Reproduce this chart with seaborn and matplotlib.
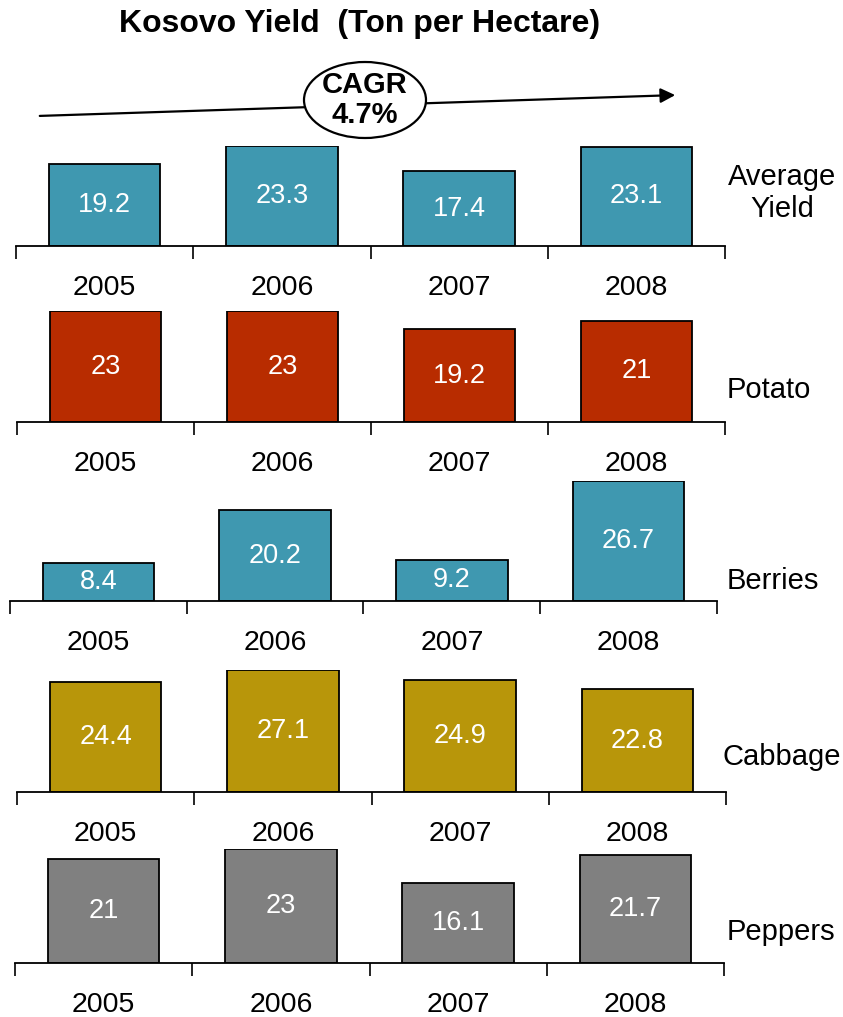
import matplotlib
matplotlib.use("Agg")
import matplotlib.pyplot as plt
from matplotlib.patches import Ellipse, FancyArrowPatch
import seaborn as sns
import pandas as pd

# ---- data ----
years = ["2005", "2006", "2007", "2008"]
panel_names = ["Average\nYield", "Potato", "Berries", "Cabbage", "Peppers"]
avg_yield = [19.2, 23.3, 17.4, 23.1]
potato = [23, 23, 19.2, 21]
berries = [8.4, 20.2, 9.2, 26.7]
cabbage = [24.4, 27.1, 24.9, 22.8]
peppers = [21, 23, 16.1, 21.7]
value_labels = [
    ["19.2", "23.3", "17.4", "23.1"],
    ["23", "23", "19.2", "21"],
    ["8.4", "20.2", "9.2", "26.7"],
    ["24.4", "27.1", "24.9", "22.8"],
    ["21", "23", "16.1", "21.7"],
]
title = "Kosovo Yield  (Ton per Hectare)"
cagr_text = "CAGR\n4.7%"

series = [avg_yield, potato, berries, cabbage, peppers]
panel_colors = ["#3F98B0", "#B82C00", "#3F98B0", "#B8960A", "#808080"]

sns.set_style("white")
plt.rcParams["font.family"] = ["Liberation Sans", "DejaVu Sans"]
plt.rcParams["text.color"] = "black"

W, H = 843, 1017
fig = plt.figure(figsize=(W / 100, H / 100), dpi=100)

def fx(x):
    return x / W

def fy(y):
    return 1 - y / H

# layout in pixels: (x_left, x_right, baseline_y, top_y, label_x, label_y, label_ha)
layout = [
    (16, 725, 246, 146, 782, 193, "center"),
    (17, 725, 422, 311, 727, 390, "left"),
    (10, 717, 601, 481, 727, 581, "left"),
    (17, 726, 792, 670, 722, 757, "left"),
    (15, 724, 963, 849, 727, 932, "left"),
]

FS_VAL = 19.5
FS_YEAR = 20.5
FS_NAME = 21

for i, (vals, name, col) in enumerate(zip(series, panel_names, panel_colors)):
    x0, x1, yb, yt, lx, ly, lha = layout[i]
    ax = fig.add_axes([fx(x0), fy(yb), (x1 - x0) / W, (yb - yt) / H])
    df = pd.DataFrame({"year": years, "value": vals})
    sns.barplot(data=df, x="year", y="value", order=years, ax=ax, color=col,
                saturation=1, width=0.63, edgecolor="black", linewidth=1.3)
    ax.set_xlim(-0.5, 3.5)
    ax.set_ylim(0, max(vals))
    ax.set_xlabel("")
    ax.set_ylabel("")
    ax.set_yticks([])
    for s in ["top", "left", "right"]:
        ax.spines[s].set_visible(False)
    ax.spines["bottom"].set_linewidth(1.3)
    ax.spines["bottom"].set_color("black")
    ax.set_xticks([-0.5, 0.5, 1.5, 2.5, 3.5], minor=True)
    ax.tick_params(axis="x", which="minor", length=9, width=1.2, direction="out",
                   color="black", bottom=True)
    ax.tick_params(axis="x", which="major", length=0, pad=21, labelsize=FS_YEAR,
                   labelcolor="black")
    for j, v in enumerate(vals):
        ax.text(j, v / 2, value_labels[i][j], ha="center", va="center",
                color="white", fontsize=FS_VAL)
    fig.text(fx(lx), fy(ly), name, ha=lha, va="center", fontsize=FS_NAME,
             multialignment="center", color="black")

# title
fig.text(fx(360), fy(24), title, ha="center", va="center", fontsize=23,
         fontweight="bold", color="black")

# CAGR arrow and ellipse
arrow = FancyArrowPatch((fx(37), fy(116)), (fx(678), fy(95)),
                        transform=fig.transFigure, arrowstyle="-|>",
                        mutation_scale=22, lw=1.6, color="black", zorder=2)
fig.add_artist(arrow)
ell = Ellipse((fx(365), fy(100)), 122 / W, 76 / H, transform=fig.transFigure,
              facecolor="white", edgecolor="black", lw=1.6, zorder=3)
fig.add_artist(ell)
fig.text(fx(365), fy(100), cagr_text, ha="center", va="center",
         fontsize=21, fontweight="bold", zorder=4, linespacing=1.1,
         color="black")

fig.savefig("out.png", dpi=100)
